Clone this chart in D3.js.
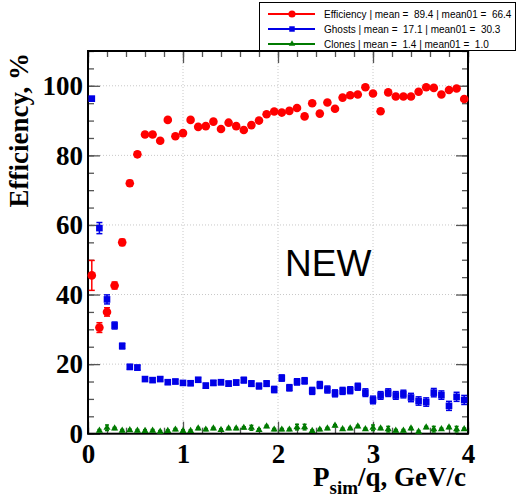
<!DOCTYPE html>
<html>
<head>
<meta charset="utf-8">
<script src="https://cdn.jsdelivr.net/npm/d3@7"></script>
<style>
  html, body { margin: 0; padding: 0; background: #fff; }
  svg { display: block; }
  .leg text { white-space: pre; }
</style>
</head>
<body>
<svg id="chart" width="518" height="498"></svg>
<script>
// Momentum bin centres, GeV/c
const momentum = [0.04,0.12,0.20,0.28,0.36,0.44,0.52,0.60,0.68,0.76,
  0.84,0.92,1.00,1.08,1.16,1.24,1.32,1.40,1.48,1.56,
  1.64,1.72,1.80,1.88,1.96,2.04,2.12,2.20,2.28,2.36,
  2.44,2.52,2.60,2.68,2.76,2.84,2.92,3.00,3.08,3.16,
  3.24,3.32,3.40,3.48,3.56,3.64,3.72,3.80,3.88,3.96];

// Efficiency, %
const efficiency = [45.5,30.5,35.0,42.6,55.0,72.0,80.3,86.0,86.0,84.2,
  90.2,85.5,86.4,90.2,88.2,88.4,89.7,87.6,89.4,88.4,
  87.3,88.7,90.0,91.8,92.6,92.3,92.8,93.6,91.2,95.0,
  92.0,95.2,93.4,96.6,97.3,97.5,99.6,97.8,92.7,98.1,
  96.9,96.9,96.9,98.3,99.6,99.4,97.5,98.8,99.2,96.2];
const efficiencyErr = [4.3,1.4,1.2,1.0,0.9,0.8,0.7,0.6,0.6,0.6,
  0.5,0.5,0.5,0.5,0.5,0.5,0.5,0.5,0.5,0.5,
  0.5,0.5,0.5,0.5,0.5,0.5,0.5,0.5,0.5,0.5,
  0.5,0.5,0.5,0.5,0.5,0.5,0.5,0.5,0.5,0.5,
  0.5,0.5,0.5,0.5,0.5,0.5,0.5,0.5,0.5,0.5];

// Ghost rate, %
const ghosts = [96.3,59.1,38.6,31.1,25.2,19.2,19.0,15.7,15.4,15.7,
  14.8,15.0,14.6,14.5,15.5,13.8,14.6,14.8,14.4,14.7,
  15.4,14.4,13.7,14.4,12.7,16.0,13.2,14.9,15.2,12.3,
  14.0,12.7,11.6,12.3,12.5,13.5,11.8,9.7,11.0,11.8,
  11.0,11.4,10.4,9.4,9.1,11.8,11.1,8.0,10.6,9.7];
const ghostsErr = [0.6,1.6,1.3,1.0,0.8,0.7,0.7,0.6,0.6,0.6,
  0.6,0.6,0.6,0.6,0.6,0.7,0.7,0.7,0.7,0.7,
  0.8,0.8,0.8,0.8,0.9,0.9,0.9,0.9,0.9,1.0,
  1.0,1.0,1.0,1.0,1.0,1.0,1.1,1.1,1.1,1.1,
  1.1,1.1,1.2,1.2,1.2,1.2,1.2,1.3,1.3,1.3];

// Clone rate, %
const clones = [null,0.9,1.7,1.5,0.9,1.0,0.9,0.8,0.9,0.6,
  0.8,1.2,0.8,0.8,1.5,1.2,1.5,1.1,1.5,1.5,
  1.7,1.7,1.1,2.1,1.2,1.2,1.2,1.9,1.9,0.8,
  1.2,1.5,2.3,1.3,1.5,2.1,1.3,1.7,1.5,1.3,
  0.9,0.9,1.5,0.6,1.8,1.3,1.3,1.8,1.3,1.3];
const clonesErr = [0,0.3,0.8,0.3,0.3,0.3,0.3,0.3,0.3,0.3,
  0.3,0.3,0.3,0.3,0.3,0.3,0.3,0.3,0.3,0.3,
  0.3,0.7,0.3,0.3,0.3,0.3,0.3,0.8,0.8,0.3,
  0.3,0.3,0.3,0.3,0.3,0.3,0.3,0.8,0.3,0.8,
  0.3,0.3,0.3,0.3,0.3,0.8,0.3,0.3,0.8,0.3];

const legendLabels = [
  "Efficiency | mean =  89.4 | mean01 =  66.4",
  "Ghosts | mean =  17.1 | mean01 =  30.3",
  "Clones | mean =  1.4 | mean01 =  1.0"
];
const xTicks = [0, 1, 2, 3, 4];
const yTicks = [0, 20, 40, 60, 80, 100];

const svg = d3.select("#chart");
const plotLeft = 88, plotRight = 468, plotTop = 51, plotBottom = 433.7;

const x = d3.scaleLinear().domain([0, 4]).range([plotLeft, plotRight]);
const y = d3.scaleLinear().domain([0, 110]).range([plotBottom, plotTop]);

const serif = "'Liberation Serif', 'Times New Roman', serif";
const sans = "'Liberation Sans', Arial, Helvetica, sans-serif";

// dotted grid
const grid = svg.append("g").attr("stroke", "#c8c8c8").attr("stroke-width", 1)
  .attr("stroke-dasharray", "1,2");
[1, 2, 3].forEach(v => grid.append("line")
  .attr("x1", x(v)).attr("x2", x(v)).attr("y1", plotTop).attr("y2", plotBottom));
[20, 40, 60, 80, 100].forEach(v => grid.append("line")
  .attr("x1", plotLeft).attr("x2", plotRight).attr("y1", y(v)).attr("y2", y(v)));

// axes: ticks on all four sides, pointing inwards
function styleAxis(g) {
  g.select(".domain").remove();
  g.selectAll(".tick line").attr("stroke", "#555").attr("stroke-width", 1.3);
}
const minorX = d3.range(0, 4.0001, 0.2);
const minorY = d3.range(0, 110.0001, 5);

svg.append("g").attr("transform", `translate(0,${plotBottom})`)
  .call(d3.axisBottom(x).tickValues(minorX).tickSizeInner(-6).tickSizeOuter(0).tickFormat(""))
  .call(styleAxis);
svg.append("g").attr("transform", `translate(0,${plotBottom})`)
  .call(d3.axisBottom(x).tickValues(xTicks).tickSizeInner(-12).tickSizeOuter(0)
    .tickPadding(10).tickFormat(d3.format("d")))
  .call(styleAxis)
  .call(g => g.selectAll("text").attr("fill", "#000").attr("font-family", serif)
    .attr("font-weight", "bold").attr("font-size", 27));

svg.append("g").attr("transform", `translate(0,${plotTop})`)
  .call(d3.axisTop(x).tickValues(minorX).tickSizeInner(-6).tickSizeOuter(0).tickFormat(""))
  .call(styleAxis);
svg.append("g").attr("transform", `translate(0,${plotTop})`)
  .call(d3.axisTop(x).tickValues(xTicks).tickSizeInner(-12).tickSizeOuter(0).tickFormat(""))
  .call(styleAxis);

svg.append("g").attr("transform", `translate(${plotLeft},0)`)
  .call(d3.axisLeft(y).tickValues(minorY).tickSizeInner(-6).tickSizeOuter(0).tickFormat(""))
  .call(styleAxis);
svg.append("g").attr("transform", `translate(${plotLeft},0)`)
  .call(d3.axisLeft(y).tickValues(yTicks).tickSizeInner(-12).tickSizeOuter(0)
    .tickPadding(5).tickFormat(d3.format("d")))
  .call(styleAxis)
  .call(g => g.selectAll("text").attr("fill", "#000").attr("font-family", serif)
    .attr("font-weight", "bold").attr("font-size", 27));

svg.append("g").attr("transform", `translate(${plotRight},0)`)
  .call(d3.axisRight(y).tickValues(minorY).tickSizeInner(-6).tickSizeOuter(0).tickFormat(""))
  .call(styleAxis);
svg.append("g").attr("transform", `translate(${plotRight},0)`)
  .call(d3.axisRight(y).tickValues(yTicks).tickSizeInner(-12).tickSizeOuter(0).tickFormat(""))
  .call(styleAxis);

// frame
svg.append("rect").attr("x", plotLeft).attr("y", plotTop)
  .attr("width", plotRight - plotLeft).attr("height", plotBottom - plotTop)
  .attr("fill", "none").attr("stroke", "#000").attr("stroke-width", 2);

// series with error bars
function drawSeries(values, errs, color, shape, size, halfCap) {
  const pts = momentum.map((m, i) => ({ m, v: values[i], e: errs[i] }))
    .filter(d => d.v !== null);
  const g = svg.append("g");
  g.selectAll("line.err").data(pts.filter(d => d.e > 0)).join("line")
    .attr("class", "err")
    .attr("x1", d => x(d.m)).attr("x2", d => x(d.m))
    .attr("y1", d => y(d.v - d.e)).attr("y2", d => y(d.v + d.e))
    .attr("stroke", color).attr("stroke-width", 1.5);
  ["lo", "hi"].forEach(side => {
    g.selectAll("line.cap" + side).data(pts.filter(d => d.e > 0)).join("line")
      .attr("class", "cap" + side)
      .attr("x1", d => x(d.m) - halfCap).attr("x2", d => x(d.m) + halfCap)
      .attr("y1", d => y(side === "lo" ? d.v - d.e : d.v + d.e))
      .attr("y2", d => y(side === "lo" ? d.v - d.e : d.v + d.e))
      .attr("stroke", color).attr("stroke-width", 1.5);
  });
  g.selectAll("path.mk").data(pts).join("path")
    .attr("class", "mk")
    .attr("d", d3.symbol().type(shape).size(size))
    .attr("transform", d => `translate(${x(d.m)},${y(d.v)})`)
    .attr("fill", color);
}

const red = "#ff0000", blue = "#0000e6", green = "#007a00";
drawSeries(clones, clonesErr, green, d3.symbolTriangle, 22, 2);
drawSeries(ghosts, ghostsErr, blue, d3.symbolSquare, 44, 3);
drawSeries(efficiency, efficiencyErr, red, d3.symbolCircle, 58, 3);

// label inside the plot
svg.append("text").attr("x", 285).attr("y", 276)
  .attr("font-family", sans).attr("font-size", 37).attr("fill", "#000")
  .text("NEW");

// axis titles
svg.append("text")
  .attr("transform", `translate(28,${plotTop + 2}) rotate(-90)`)
  .attr("text-anchor", "end")
  .attr("font-family", serif).attr("font-weight", "bold").attr("font-size", 27)
  .text("Efficiency, %");

const xt = svg.append("text").attr("x", plotRight - 2).attr("y", 486)
  .attr("text-anchor", "end")
  .attr("font-family", serif).attr("font-weight", "bold").attr("font-size", 27);
xt.append("tspan").text("P");
xt.append("tspan").attr("font-size", 19).attr("dy", 8).text("sim");
xt.append("tspan").attr("dy", -8).text("/q, GeV/c");

// legend
const leg = svg.append("g").attr("class", "leg");
leg.append("rect").attr("x", 259.5).attr("y", 2.5).attr("width", 256).attr("height", 48)
  .attr("fill", "#fff").attr("stroke", "#000").attr("stroke-width", 1);
const legColors = [red, blue, green];
const legShapes = [d3.symbolCircle, d3.symbolSquare, d3.symbolTriangle];
const legSizes = [40, 30, 18];
legendLabels.forEach((label, i) => {
  const yy = 14 + i * 15;
  leg.append("line").attr("x1", 268).attr("x2", 315).attr("y1", yy).attr("y2", yy)
    .attr("stroke", legColors[i]).attr("stroke-width", 2);
  leg.append("path").attr("d", d3.symbol().type(legShapes[i]).size(legSizes[i]))
    .attr("transform", `translate(292,${yy})`).attr("fill", legColors[i]);
  leg.append("text").attr("x", 324).attr("y", yy + 3.5)
    .attr("font-family", sans).attr("font-size", 10).attr("fill", "#000")
    .text(label);
});
</script>
</body>
</html>
